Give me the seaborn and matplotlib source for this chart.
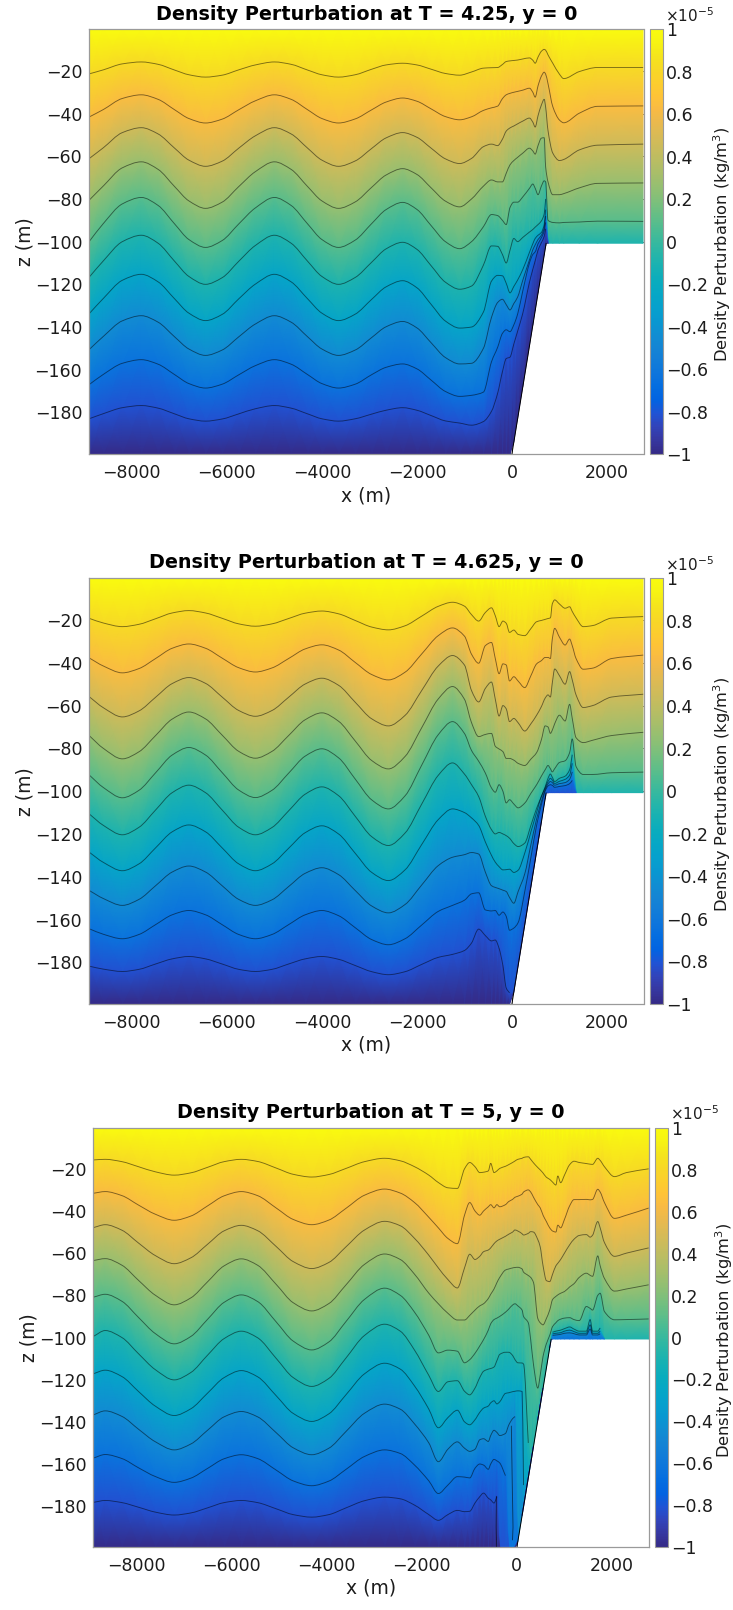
import numpy as np
import pandas as pd
import matplotlib
matplotlib.use("Agg")
import matplotlib.pyplot as plt
from matplotlib.colors import LinearSegmentedColormap, Normalize
from matplotlib.cm import ScalarMappable
from matplotlib.patches import PathPatch
from matplotlib.path import Path
import seaborn as sns

N = np.nan

TITLES = ["Density Perturbation at T = 4.25, y = 0",
          "Density Perturbation at T = 4.625, y = 0",
          "Density Perturbation at T = 5, y = 0"]
X_TICKS = [-8000, -6000, -4000, -2000, 0, 2000]
Z_TICKS = [-180, -160, -140, -120, -100, -80, -60, -40, -20]
CB_TICKS = [-1, -0.8, -0.6, -0.4, -0.2, 0, 0.2, 0.4, 0.6, 0.8, 1]
CB_LABELS = ["\u22121", "\u22120.8", "\u22120.6", "\u22120.4", "\u22120.2", "0", "0.2", "0.4", "0.6", "0.8", "1"]
LEVELS = [0.818, 0.636, 0.455, 0.273, 0.091, -0.091, -0.273, -0.455, -0.636, -0.818]
TOP_VALUE, BOTTOM_VALUE = 1.0, -1.0
BED_X = [-8900, 0, 720, 2770]
BED_Z = [-199.5, -199.5, -100.8, -100.8]

# ---- panel 1 : T = 4.25 ----
X1 = [-8900,-8600,-8200,-7800,-7450,-7100,-6800,-6450,-6100,-5750,-5400,-5000,-4650,-4300,-4000,-3650,-3300,-2950,-2650,-2300,-2000,-1700,-1400,-1100,
      -850,-600,-430,-300,-200,-120,-40,40,120,230,370,440,490,550,620,680,710,760,860,1000,1090,1420,1800,2760]
P1 = [
 [-21.4,-19.5,-16.7,-15.8,-16.9,-19.6,-21.8,-22.9,-22,-19.5,-17.2,-15.8,-16.9,-19.6,-21.8,-22.9,-21.8,-19.2,-17.2,-16.4,-17.2,-19.2,-21.2,-22,
  -20.5,-18.7,-18.5,-18.4,-17,-15.6,-15.3,-15.1,-14.9,-14.4,-13.9,-15,-16.4,-13.5,-10.8,-9.9,-10.3,-12.5,-16.4,-21.5,-23.6,-20.3,-18.4,-18.4],
 [-41.6,-38.1,-32.9,-31.2,-33.3,-38.2,-42.3,-44.4,-42.6,-38.2,-34,-31.2,-33.3,-38.2,-42.3,-44.4,-42.5,-38.2,-34.6,-32.7,-34.2,-37.8,-41.4,-42.9,
  -41.5,-38.5,-37.3,-36.5,-33,-31.2,-30.5,-30,-29.6,-29,-28.1,-30,-32.3,-27,-22.5,-20.6,-21.5,-26,-36.7,-43,-44.3,-39.8,-36.6,-36.4],
 [-61.1,-56,-48.9,-46.6,-49.5,-56.2,-61.8,-64.7,-62.3,-56.2,-50.4,-46.6,-49.5,-56.2,-61.8,-64.7,-62.2,-56.3,-51.4,-48.9,-51.1,-56.2,-61.2,-63.4,
  -61,-55.5,-54.3,-55,-52,-48.2,-46.7,-45.8,-44.8,-43.5,-42.1,-44,-46.3,-41,-36,-33.3,-37,-48,-58.5,-62,-61.5,-57,-54.8,-54.3],
 [-80.6,-73.9,-65.4,-62.6,-66.1,-74.2,-80.9,-84.4,-81.5,-74.2,-67.2,-62.6,-66.1,-74.2,-80.9,-84.4,-81.4,-74.5,-68.8,-65.8,-68.5,-74.8,-81,-83.7,
  -80,-74,-71.1,-72,-72,-68,-64,-62,-60.5,-58.5,-56.2,-57.5,-59,-55,-51.5,-51.3,-65,-72,-78,-78,-77.5,-74.8,-72.7,-72.5],
 [-100,-91.5,-82.3,-79.3,-83,-91.7,-99,-102.7,-99.5,-91.7,-84.2,-79.3,-83,-91.7,-99,-102.7,-99.3,-91.5,-85,-81.6,-84.9,-92.5,-100,-103.3,
  -100,-93,-87.3,-87.8,-90,-92,-84,-81.5,-81.5,-79,-75,-73,-75,-78,-74,-71.5,-72,-90,-91,-91.2,-91,-90.8,-90.4,-90.5],
 [-116.7,-109,-100,-97,-100.7,-109.2,-116.3,-120,-116.9,-109.2,-101.8,-97,-100.7,-109.2,-116.3,-120,-116.8,-109.6,-103.4,-100.3,-103.6,-111.3,-119,-122.3,
  -120.8,-111,-102,-102.2,-106,-110,-104,-98.5,-100,-98,-95.5,-94.3,-93.2,-92,-90.3,-87,-80],
 [-133.8,-126.6,-118.1,-115.3,-118.8,-126.8,-133.5,-137,-134.1,-126.8,-119.9,-115.3,-118.8,-126.8,-133.5,-137,-134,-127,-121.2,-118.3,-121.6,-129.4,-137.2,-140.5,
  -140,-133,-118.5,-115.8,-116,-119.5,-124,-121,-118,-113,-105,-101,-98.5,-97,-95.7,-92,-85],
 [-150.6,-144.4,-137.1,-134.7,-137.7,-144.6,-150.3,-153.3,-150.8,-144.6,-138.6,-134.7,-137.7,-144.6,-150.3,-153.3,-150.8,-144.9,-139.9,-137.4,-140.4,-147.4,-154.3,-157.3,
  -157,-150,-135.5,-128.5,-127,-129.5,-132,-129,-126,-118,-108.5,-103.8,-101.5,-99,-97,-93.5,-88],
 [-167,-162.2,-157,-155.3,-157.4,-162.3,-166.5,-168.6,-166.8,-162.4,-158.1,-155.3,-157.4,-162.3,-166.5,-168.6,-166.8,-162.3,-158.9,-157.3,-159.6,-164.9,-170.2,-172.5,
  -172,-170.5,-156.3,-149.5,-143,-141.3,-142.2,-139,-134,-123,-110,-106,-104.8,-101,-98.2,-95,-91],
 [-183,-180.6,-177.8,-176.8,-178,-180.7,-183,-184.1,-183.1,-180.7,-178.3,-176.8,-178,-180.7,-183,-184.1,-183,-180.8,-179,-177.8,-179,-181.5,-184,-185,
  -186,-184.3,-179.5,-171,-161,-154.8,-154.1,-148,-142,-133.5,-119,-113,-109,-104,-100.5,-97.5,-94],
]

# ---- panel 2 : T = 4.625 ----
X2 = [-8900,-8600,-8200,-7850,-7500,-7150,-6800,-6450,-6100,-5750,-5400,-5050,-4700,-4350,-4000,-3650,-3300,-2950,-2600,-2250,-1900,-1550,-1250,
      -1000,-850,-700,-560,-430,-350,-270,-190,-120,-50,40,130,270,400,520,620,700,760,810,850,900,1000,1120,1215,1270,1350,1500,1700,2100,2760]
P2 = [
 [-19.2,-21.4,-23.1,-22,-19.4,-16.7,-15.6,-16.7,-19.2,-21.8,-22.9,-21.8,-19.3,-16.8,-15.8,-17.1,-20.2,-23.3,-24.6,-22.7,-18.2,-13.6,-11.7,
  -13.5,-17.5,-20.5,-16.5,-14.3,-18,-23.1,-20.5,-21.5,-25.8,-24.7,-26.7,-27.3,-24,-20.8,-20.2,-19.7,-19.3,-19,-12.5,-10.6,-12.5,-14.5,-13.8,-16,-19,-23.1,-22.6,-19.1,-18.4],
 [-37.7,-41.5,-44.7,-42.7,-38,-33.2,-31.2,-33.2,-37.8,-42.3,-44.3,-42.4,-38,-33.5,-31.6,-34,-39.8,-45.5,-48,-44.4,-35.9,-27.3,-23.7,
  -27.5,-36,-40.2,-32,-30.5,-38,-45.1,-40.5,-41,-48.5,-46.5,-48.5,-51.6,-46,-40.5,-39,-37.5,-37.5,-38,-29,-23.9,-28,-31.7,-28.9,-32,-38,-43,-42.5,-38,-36.4],
 [-55.8,-61,-65.3,-62.5,-56.1,-49.7,-46.9,-49.6,-56,-62.3,-65,-62.3,-56.1,-49.9,-47.2,-50.5,-58.4,-66.2,-69.5,-64.6,-53,-41.5,-36.6,
  -41,-53,-58.3,-52,-49,-57,-64.9,-60,-61.5,-67.5,-66,-68,-71.9,-68.5,-64.5,-60.5,-56.5,-55,-56,-49.5,-42.9,-46,-50,-44.1,-48,-55,-60.9,-60,-56,-54.7],
 [-74,-80,-84.9,-81.6,-74,-66.3,-63,-66.2,-73.8,-81.4,-84.6,-81.4,-74,-66.6,-63.4,-67.3,-76.5,-85.7,-89.6,-83.8,-70.4,-56.9,-51.1,
  -57,-68,-74.5,-73.5,-73,-79,-80.3,-81.5,-84.7,-84.7,-85.5,-87,-88,-85,-82,-76,-69.5,-70,-73,-71.5,-68.5,-64.5,-67.2,-59.4,-66,-75,-77.3,-76.2,-74,-72.5],
 [-92.4,-98.3,-103.1,-99.6,-91.4,-83.1,-79.6,-83.1,-91.3,-99.5,-103,-99.6,-91.6,-83.6,-80.2,-84.4,-94.3,-104.1,-108.3,-102.2,-87.9,-73.6,-67.5,
  -73,-81,-86,-91.5,-98.5,-100.5,-97,-100,-105.5,-104,-106,-107.8,-105.6,-101,-97,-93,-90,-88,-89.5,-91,-89.5,-86.6,-85.8,-82,-75.6,-88.5,-92.2,-92.2,-91.4,-91.1],
 [-110.6,-116,-120.4,-116.9,-108.8,-100.7,-97.2,-100.7,-108.8,-116.9,-120.4,-117,-109.2,-101.4,-98,-102.1,-111.7,-121.3,-125.4,-119.6,-106.1,-92.6,-86.8,
  -92,-97,-102.5,-111.7,-118,-120,-119.3,-120,-120.8,-122,-124.5,-125.9,-124.3,-116,-108,-102.5,-98,-94,-92,-93.5,-95.5,-94,-93,-90,-83],
 [-128.5,-133.3,-137.2,-134,-126.5,-119,-115.8,-119,-126.5,-134,-137.2,-134,-126.7,-119.4,-116.2,-120,-129,-138,-141.8,-136.8,-125,-113.3,-108.3,
  -110,-112.5,-116,-123.7,-130,-133.2,-135.3,-136.8,-136.7,-136.5,-138,-137,-129,-119,-110,-102.5,-98.5,-95.5,-94,-94.8,-96.4,-95.4,-94.5,-92.5,-87],
 [-146.4,-150.2,-153.4,-150.6,-144.2,-137.8,-135,-137.8,-144.2,-150.6,-153.4,-150.8,-144.6,-138.4,-135.8,-139,-146.4,-153.7,-156.9,-153,-143.9,-134.8,-130.9,
  -129.7,-128.7,-129.4,-137.8,-144.2,-145,-145.6,-146.3,-146.9,-149.7,-152.4,-147,-138.7,-125,-113,-104.8,-99.3,-96.6,-95.5,-96,-97.2,-96.5,-96,-94.5,-91],
 [-164.3,-166.9,-169,-167,-162.4,-157.8,-155.8,-157.8,-162.4,-167,-169,-167,-162.4,-157.8,-155.8,-158.2,-163.8,-169.4,-171.8,-169,-162.6,-156.2,-153.4,
  -151,-148,-147.5,-155.5,-156,-155.8,-158,-156.5,-158.5,-165,-164,-161.5,-147,-131,-116,-106.4,-100,-97.6,-97,-97.3,-98.2,-97.8,-97.4,-96.5,-95],
 [-181.8,-183.2,-184.3,-183.3,-180.8,-178.4,-177.3,-178.4,-180.8,-183.3,-184.3,-183.3,-180.8,-178.4,-177.3,-178.6,-181.5,-184.4,-185.8,-184.4,-181,-177.7,-176.3,
  -174.5,-171,-164.5,-167.5,-170,-169.6,-173.5,-181.5,-192,-194.3],
]

# ---- panel 3 : T = 5 ----
X3 = [-8900,-8650,-8300,-7950,-7600,-7200,-6850,-6500,-6150,-5790,-5450,-5050,-4700,-4310,-3950,-3600,-3200,-2780,-2450,-2150,-1850,-1650,-1450,-1250,
      -1100,-990,-880,-780,-700,-600,-550,-480,-420,-360,-240,-170,-90,-40,20,110,140,240,290,350,440,490,550,620,690,
      750,820,860,920,1000,1110,1200,1310,1460,1540,1590,1700,1750,1840,2050,2300,2770]
P3 = [
 [-15.8,-15.5,-16.6,-19,-21.4,-23,-21.9,-19.3,-16.6,-15.5,-16.5,-19.7,-22.6,-23.9,-22.7,-19.9,-16.6,-15,-16.2,-19,-23,-26.5,-29,-29.3,
  -20,-17,-19,-21.8,-21.6,-21,-17.4,-21.8,-21,-19.8,-18.8,-18,-17,-16.3,-15.5,-15,-14.6,-14.3,-15.5,-17.2,-19.4,-20.5,-22,-24,-25,
  -26.3,-27.7,-23.4,-26.6,-23,-18,-16.4,-17,-17.5,-17.8,-17.9,-15,-16,-19,-23.7,-21.8,-20],
 [-31.6,-30.8,-32.7,-37.2,-41.5,-44.4,-42.4,-37.6,-32.8,-30.8,-32.7,-38.7,-44,-46.5,-44.3,-38.9,-32.5,-29.6,-31.5,-36,-43,-48,-53,-55.5,
  -42,-36,-40,-42,-40,-38,-37,-38.5,-37,-38,-37,-35.5,-34.5,-33.5,-33,-32,-31,-30,-31,-33.5,-37,-38.5,-42,-45,-48,
  -49.5,-50,-46.7,-48,-44,-37.5,-34.6,-34.6,-34.5,-34.7,-34.5,-29.7,-31,-36,-43.5,-42,-38.6],
 [-47.9,-46.5,-49.1,-55.2,-61.1,-65,-62.2,-55.8,-49.4,-46.8,-49.3,-57,-64,-67.3,-64.4,-57.2,-49,-44.9,-47,-53,-61,-67,-72.5,-76.5,
  -67,-60.5,-63,-61.5,-59.3,-58.5,-57.5,-55.5,-54.2,-53.4,-52,-51,-50,-49,-49.5,-50.8,-51.4,-50.6,-49.8,-50,-53.6,-57,-66,-73,-73.5,
  -70,-66,-64.8,-63,-60,-56,-53.4,-51.6,-51.2,-52.4,-51.5,-45,-48,-55,-61.5,-60,-57.5],
 [-63.5,-62.6,-65.7,-72.9,-79.9,-84.5,-81.2,-73.6,-66,-62.7,-65.7,-75,-83.5,-87.4,-83.9,-75.3,-65.3,-60.4,-63,-70,-79,-84,-88.5,-91.7,
  -91.7,-89.5,-87,-85,-84,-81.5,-79.5,-77,-74,-71.5,-68,-67.5,-67,-66.8,-66.7,-67.5,-69,-70.6,-71.5,-74,-91,-93,-94,-91,-87,
  -82,-80.5,-79.8,-79,-78.2,-76,-74.5,-71.5,-69.5,-70.5,-71,-61.3,-66,-72,-78,-77,-75],
 [-80.9,-79.5,-82.8,-90.5,-98.1,-103,-99.5,-91.4,-83.3,-79.8,-82.9,-92.8,-101.7,-105.9,-102.1,-92.7,-81.9,-76.6,-80,-88,-99,-107.3,-106,-106.5,
  -112,-110.5,-107.5,-104,-101,-96.5,-93.5,-91.5,-90.8,-90,-88,-86.5,-84.6,-84,-85,-87,-90,-93,-101,-113,-124,-118,-109,-103,-99,
  -94.8,-93,-92,-91.3,-90.8,-90.6,-91.5,-92,-85.3,-86.2,-87,-80,-79,-87.7,-91.6,-91.5,-91.2],
 [-99.5,-96.7,-100,-107.7,-115.2,-120.1,-116.6,-108.4,-100.5,-97,-100.1,-110.1,-119,-123.2,-119.4,-110,-99,-93.7,-97,-106,-118,-125.6,-121,-120.5,
  -125.5,-127.2,-124,-119,-116,-115,-114.7,-114,-111,-108,-107,-107,-108.5,-110.5,-112,-112.1,-112.6,-150,N,N,N,N,N,N,N,
  -97.5,-97,-96.8,-96.5,-95.8,-95,-96,-97,-97,-91.5,-97,-97,-95.5],
 [-117.2,-115.5,-118.5,-125.6,-132.5,-137,-133.8,-126.4,-119,-115.7,-118.6,-127.8,-136,-139.8,-136.2,-127.4,-117.2,-112.2,-115,-123,-134,-142.8,-138,-134.5,
  -140,-141.4,-139,-135.5,-133.5,-132.5,-131,-130,-131.5,-130.5,-126.5,-126.2,-125.7,-125.5,-125.3,-125.6,-170,N,N,N,N,N,N,N,N,
  -98.3,-98,-97.9,-97.7,-97,-96.5,-97.2,-98,-98,-94,-98,-98,-97],
 [-136.7,-134.8,-137.4,-143.5,-149.4,-153.3,-150.5,-144,-137.6,-135.1,-137.6,-145.3,-152.3,-155.6,-152.5,-144.8,-135.9,-131.6,-134,-141,-150,-158.9,-153,-149.5,
  -152.5,-154,-153,-148.5,-148,-149.3,-146.5,-144,-145,-146.5,-145.5,-141.5,-138.5,-137.5,N,N,N,N,N,N,N,N,N,N,N,
  -99,-98.8,-98.7,-98.5,-98,-97.8,-98.2,-98.8,-98.8,-96,-98.8,-98.8,-98.2],
 [-157.2,-155.5,-157.4,-161.8,-165.9,-168.7,-166.7,-162.1,-157.5,-155.6,-157.4,-163,-168,-170.3,-168.1,-162.7,-156.4,-153.3,-155,-160.5,-168,-174,-170,-166,
  -166.2,-166.6,-162,-160,-160.5,-162.5,-160,-157.8,-158.5,-159.5,-165.5],
 [-178.2,-177.3,-178.3,-180.5,-182.8,-184.2,-183.2,-180.8,-178.3,-177.3,-178.3,-181.3,-184,-185.2,-184,-180.9,-177.4,-175.7,-176.5,-179.5,-184,-186.7,-184,-182,
  -182.6,-182.4,-178.5,-175.5,-173.8,-176.2,-177,-178.5,-175.5],
]
# folds of contours in panel 3 that run straight down to the floor
FOLD_X = [[-431, -435, -425], [-116, -100, -81, -92]]
FOLD_Z = [[-175.3, -190, -199.5], [-142, -165, -190, -196]]

PARULA = [(.2081,.1663,.5292),(.2123,.2138,.6270),(.1959,.2645,.7279),(.1253,.3242,.8303),(.0117,.3875,.8820),
          (.0165,.4266,.8786),(.0498,.4586,.8641),(.0723,.4887,.8467),(.0793,.5200,.8312),(.0641,.5570,.8240),
          (.0343,.5966,.8199),(.0239,.6287,.8038),(.0228,.6535,.7768),(.0384,.6743,.7436),(.0843,.6928,.7062),
          (.1453,.7098,.6646),(.2178,.7250,.6193),(.3022,.7376,.5712),(.3953,.7459,.5244),(.4871,.7491,.4840),
          (.5709,.7485,.4494),(.6473,.7456,.4188),(.7184,.7411,.3905),(.7858,.7356,.3633),(.8507,.7299,.3360),
          (.9139,.7258,.3063),(.9739,.7314,.2666),(.9990,.7653,.2164),(.9880,.8066,.1794),(.9697,.8481,.1475),
          (.9589,.8949,.1132),(.9661,.9514,.0755),(.9763,.9831,.0538)]
cmap = LinearSegmentedColormap.from_list("parula_like", PARULA, N=256)
norm = Normalize(-1, 1)

W, H = 733, 1610
# left, right, top, bottom, colorbar left, colorbar right, xlabel y, title y, ylabel x, cbar label x
BOXES = [(89.1, 643.5, 29.3, 454, 650, 663, 496, 15, 25, 722),
         (89.1, 643.5, 578.3, 1004, 650, 663, 1045, 563, 25, 722),
         (93.3, 648.7, 1127.7, 1547.3, 655, 668, 1588, 1113, 29, 724)]

sns.set_theme(style="ticks", rc={"font.family": "DejaVu Sans"})
fig = plt.figure(figsize=(W / 100, H / 100), dpi=100, facecolor="white")
EDGE = "#9a9a9a"
TICK = "#555555"
TEXT = "#1c1c1c"


def smooth_path(xy):
    """Bezier path through the drawn vertices, flat at each crest and trough."""
    x, z = xy[:, 0], xy[:, 1]
    if len(x) < 3:
        return Path(xy)
    dx = np.diff(x)
    s = np.diff(z) / np.where(dx == 0, 1, dx)
    m = np.zeros(len(x))
    for i in range(1, len(x) - 1):
        if s[i - 1] * s[i] > 0:
            m[i] = 2 * s[i - 1] * s[i] / (s[i - 1] + s[i])
    m[0], m[-1] = s[0], s[-1]
    verts, codes = [(x[0], z[0])], [Path.MOVETO]
    for i in range(len(x) - 1):
        h = dx[i] / 3
        verts += [(x[i] + h, z[i] + m[i] * h), (x[i + 1] - h, z[i + 1] - m[i + 1] * h), (x[i + 1], z[i + 1])]
        codes += [Path.CURVE4] * 3
    return Path(verts, codes)


def draw(xs, rows, box, title, folds=None):
    l, r, t, b, cl, cr, xl_y, ti_y, yl_x, cbl_x = box
    ax = fig.add_axes([l / W, 1 - b / H, (r - l) / W, (b - t) / H])
    xs = np.asarray(xs, float)
    bed = np.interp(xs, BED_X, BED_Z)
    lines = np.full((len(rows), len(xs)), np.nan)
    for i, row in enumerate(rows):
        lines[i, :len(row)] = row

    # curvilinear mesh whose rows are the contours
    depth = np.where(np.isnan(lines), bed, np.maximum(lines, bed))
    Z = np.vstack([np.full(len(xs), -0.5), depth, bed])
    V = np.array([TOP_VALUE] + LEVELS + [BOTTOM_VALUE])
    C = np.repeat(V[:, None], len(xs), axis=1)
    Xm = np.repeat(xs[None, :], Z.shape[0], axis=0)
    ax.pcolormesh(Xm, Z, C, shading="gouraud", cmap=cmap, norm=norm, zorder=1)
    ax.fill_between(BED_X, BED_Z, -205, color="white", lw=0, zorder=2)

    recs = []
    for i in range(len(rows)):
        seg = np.cumsum(np.isnan(lines[i]))
        keep = ~np.isnan(lines[i])
        recs.append(pd.DataFrame({"x": xs[keep], "z": depth[i][keep], "seg": i * 1000 + seg[keep]}))
    df = pd.concat(recs, ignore_index=True)
    sns.lineplot(data=df, x="x", y="z", units="seg", estimator=None, sort=False, ax=ax,
                 color="black", linewidth=0.65, legend=False, zorder=3)
    # the contour vertices seaborn placed are drawn as a smooth curve
    for line in list(ax.lines):
        ax.add_patch(PathPatch(smooth_path(line.get_xydata()), fill=False, edgecolor="black",
                               alpha=0.5, linewidth=0.65, zorder=3))
        line.remove()
    if folds:
        fold = pd.concat([pd.DataFrame({"x": fx, "z": fz, "seg": j}) for j, (fx, fz) in enumerate(zip(*folds))],
                         ignore_index=True)
        sns.lineplot(data=fold, x="x", y="z", units="seg", estimator=None, sort=False, ax=ax,
                     color="black", alpha=0.55, linewidth=0.65, legend=False, zorder=3)
    slope = pd.DataFrame({"x": BED_X[1:3], "z": BED_Z[1:3]})
    sns.lineplot(data=slope, x="x", y="z", estimator=None, sort=False, ax=ax,
                 color="black", linewidth=0.7, legend=False, zorder=3)

    ax.set_xlim(-8900, 2770)
    ax.set_ylim(-199.5, -0.5)
    ax.set_xticks(X_TICKS)
    ax.set_yticks(Z_TICKS)
    fmt = matplotlib.ticker.FuncFormatter(lambda v, _: f"{v:.0f}".replace("-", "\u2212"))
    ax.xaxis.set_major_formatter(fmt)
    ax.yaxis.set_major_formatter(fmt)
    ax.tick_params(axis="both", direction="in", length=5, width=0.6, color=TICK, labelcolor=TEXT,
                   labelsize=12.5, top=True, right=True, pad=5)
    ax.tick_params(axis="x", pad=7)
    for s in ax.spines.values():
        s.set_color(EDGE)
        s.set_linewidth(0.9)
        s.set_visible(True)
        s.set_zorder(5)
    h = b - t
    ax.set_xlabel("x (m)", fontsize=13.5, color=TEXT, va="center")
    ax.xaxis.set_label_coords(0.5, -(xl_y - b) / h)
    ax.set_ylabel("z (m)", fontsize=13.5, color=TEXT, va="center")
    ax.yaxis.set_label_coords(-(l - yl_x) / (r - l), 0.5)
    ax.set_title(title, fontsize=13.8, fontweight="bold", color="black", y=1 + (t - ti_y) / h, va="center", pad=0)

    cax = fig.add_axes([cl / W, 1 - b / H, (cr - cl) / W, (b - t) / H])
    cb = fig.colorbar(ScalarMappable(norm=norm, cmap=cmap), cax=cax)
    cb.set_ticks(CB_TICKS)
    cb.set_ticklabels(CB_LABELS)
    cax.tick_params(direction="in", length=4, width=0.6, color=TICK, labelcolor=TEXT, labelsize=12.5, pad=2)
    cb.outline.set_edgecolor(EDGE)
    cb.outline.set_linewidth(0.8)
    fig.text((cr + 2) / W, 1 - (t - 14) / H, "\u00d710$^{-5}$", fontsize=11, color=TEXT,
             ha="left", va="center")
    fig.text(cbl_x / W, 1 - ((t + b) / 2 + 3) / H, "Density Perturbation (kg/m$^3$)", rotation=90,
             fontsize=11.7, color=TEXT, ha="center", va="center")


draw(X1, P1, BOXES[0], TITLES[0])
draw(X2, P2, BOXES[1], TITLES[1])
draw(X3, P3, BOXES[2], TITLES[2], folds=(FOLD_X, FOLD_Z))

fig.savefig("out.png", dpi=100, facecolor="white")
